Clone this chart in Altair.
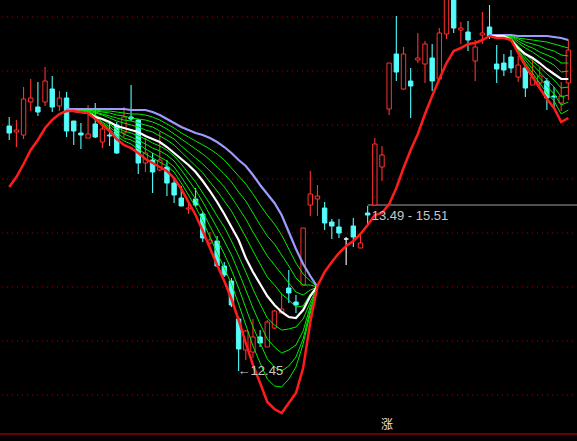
import altair as alt
import pandas as pd

# ---- daily candles (price) ----
opens = [14.90, 14.84, 14.81, 15.14, 15.09, 15.14, 15.27, 15.10, 15.18, 14.95,
         14.83, 14.78, 14.92, 14.74, 14.81, 14.91, 14.83, 14.99, 14.96, 14.53,
         14.56, 14.46, 14.49, 14.33, 14.18, 14.07, 14.17, 14.02, 13.73, 13.75,
         13.50, 13.35, 12.97, 12.66, 12.64, 12.79, 12.69, 12.88, 13.03, 13.28,
         13.14, 13.31, 14.11, 14.17, 14.08, 13.94, 13.89, 13.77, 13.90, 13.68,
         14.03, 14.11, 14.49, 15.07, 15.62, 15.27, 15.35, 15.56, 15.52, 15.58,
         15.37, 15.82, 16.30, 15.86, 15.84, 15.55, 15.81, 15.89, 15.52, 15.53,
         15.59, 15.39, 15.48, 15.31, 15.33, 15.35, 15.20, 15.13, 15.33]
highs = [14.99, 14.96, 15.29, 15.37, 15.34, 15.49, 15.40, 15.25, 15.24, 14.95,
         14.93, 15.11, 15.13, 14.92, 14.94, 14.94, 15.09, 15.31, 14.97, 14.78,
         14.63, 14.84, 14.56, 14.39, 14.30, 14.15, 14.28, 14.04, 13.84, 13.80,
         13.54, 13.38, 12.99, 12.86, 12.97, 12.86, 12.96, 13.06, 13.22, 13.46,
         13.21, 13.88, 14.45, 14.31, 14.14, 13.97, 13.97, 13.79, 13.98, 13.83,
         14.10, 14.78, 14.70, 15.53, 16.00, 15.69, 15.48, 15.83, 15.75, 15.72,
         15.88, 16.30, 16.36, 15.94, 15.95, 15.76, 16.04, 16.11, 15.71, 15.62,
         15.66, 15.60, 15.51, 15.56, 15.49, 15.38, 15.29, 15.34, 15.76]
lows = [14.76, 14.69, 14.77, 15.05, 15.00, 15.10, 15.04, 15.05, 14.79, 14.71,
        14.67, 14.78, 14.78, 14.68, 14.70, 14.62, 14.79, 14.95, 14.42, 14.44,
        14.23, 14.45, 14.20, 14.13, 14.10, 14.02, 14.09, 13.74, 13.71, 13.49,
        13.39, 13.09, 12.45, 12.56, 12.58, 12.69, 12.69, 12.87, 13.03, 13.13,
        13.03, 13.31, 14.00, 14.00, 13.86, 13.77, 13.78, 13.51, 13.69, 13.68,
        13.90, 14.11, 14.35, 15.01, 15.35, 15.26, 14.98, 15.53, 15.33, 15.25,
        15.37, 15.77, 15.83, 15.72, 15.65, 15.35, 15.72, 15.77, 15.33, 15.40,
        15.43, 15.34, 15.19, 15.31, 15.29, 15.06, 15.09, 15.05, 15.16]
closes = [14.83, 14.86, 15.17, 15.18, 15.04, 15.35, 15.09, 15.18, 14.85, 14.85,
          14.81, 14.82, 14.79, 14.87, 14.80, 14.63, 14.99, 14.97, 14.53, 14.63,
          14.44, 14.56, 14.33, 14.21, 14.10, 14.08, 14.11, 13.78, 13.76, 13.50,
          13.41, 13.11, 12.67, 12.85, 12.79, 12.73, 12.94, 13.05, 13.07, 13.23,
          13.11, 13.88, 14.22, 14.20, 13.93, 13.90, 13.83, 13.77, 13.79, 13.73,
          14.01, 14.72, 14.61, 15.53, 15.44, 15.62, 15.30, 15.58, 15.72, 15.35,
          15.83, 16.24, 15.88, 15.88, 15.76, 15.69, 15.83, 15.80, 15.47, 15.46,
          15.48, 15.51, 15.28, 15.39, 15.40, 15.18, 15.19, 15.20, 15.66]

# ---- overlay lines ----
red_line = [14.29, 14.39, 14.52, 14.66, 14.76, 14.88, 14.96, 15.02, 15.05, 15.05,
            15.04, 15.03, 14.97, 14.91, 14.85, 14.77, 14.71, 14.68, 14.63, 14.57,
            14.53, 14.49, 14.45, 14.38, 14.27, 14.14, 14.01, 13.85, 13.68, 13.51,
            13.35, 13.17, 12.96, 12.73, 12.51, 12.33, 12.14, 12.07, 12.03, 12.13,
            12.23, 12.48, 12.94, 13.30, 13.44, 13.54, 13.63, 13.70, 13.75, 13.82,
            13.91, 14.01, 14.03, 14.12, 14.28, 14.48, 14.66, 14.82, 15.02, 15.20,
            15.37, 15.53, 15.65, 15.68, 15.72, 15.73, 15.76, 15.80, 15.78, 15.78,
            15.76, 15.63, 15.50, 15.39, 15.28, 15.17, 15.08, 14.94, 14.98]

# first fan covers candles 8..43, second fan candles 67..78
fan1_start, fan2_start = 8, 67
upper1 = [15.07, 15.07, 15.07, 15.07, 15.07, 15.07, 15.07, 15.07, 15.07, 15.06,
          15.06, 15.06, 15.04, 15.01, 14.97, 14.93, 14.89, 14.86, 14.83, 14.81,
          14.78, 14.74, 14.69, 14.63, 14.56, 14.50, 14.41, 14.31, 14.22, 14.13,
          14.01, 13.84, 13.67, 13.52, 13.40, 13.29]
middle1 = [15.05, 15.05, 15.04, 15.03, 14.99, 14.97, 14.94, 14.90, 14.88, 14.86,
           14.84, 14.80, 14.77, 14.74, 14.69, 14.63, 14.57, 14.51, 14.44, 14.35,
           14.25, 14.14, 14.02, 13.89, 13.76, 13.58, 13.44, 13.32, 13.20, 13.11,
           13.04, 12.99, 12.98, 13.06, 13.20, 13.30]
greens1 = [
    [15.07, 15.07, 15.07, 15.07, 15.06, 15.05, 15.05, 15.04, 15.03, 15.02,
     15.02, 15.01, 14.99, 14.96, 14.92, 14.88, 14.83, 14.79, 14.75, 14.71,
     14.67, 14.62, 14.56, 14.48, 14.40, 14.32, 14.22, 14.11, 14.01, 13.92,
     13.81, 13.67, 13.53, 13.42, 13.35, 13.29],
    [15.07, 15.07, 15.06, 15.06, 15.05, 15.04, 15.03, 15.01, 15.00, 14.98,
     14.97, 14.96, 14.94, 14.91, 14.87, 14.82, 14.77, 14.72, 14.67, 14.62,
     14.56, 14.49, 14.42, 14.34, 14.24, 14.15, 14.03, 13.91, 13.80, 13.72,
     13.61, 13.50, 13.38, 13.31, 13.31, 13.29],
    [15.06, 15.06, 15.06, 15.06, 15.04, 15.02, 15.00, 14.98, 14.96, 14.95,
     14.93, 14.91, 14.89, 14.85, 14.81, 14.77, 14.70, 14.64, 14.58, 14.52,
     14.45, 14.37, 14.29, 14.19, 14.08, 13.97, 13.84, 13.72, 13.60, 13.51,
     13.42, 13.33, 13.24, 13.21, 13.26, 13.29],
    [15.06, 15.06, 15.06, 15.05, 15.03, 15.01, 14.98, 14.95, 14.93, 14.91,
     14.89, 14.86, 14.84, 14.80, 14.76, 14.71, 14.64, 14.57, 14.50, 14.43,
     14.34, 14.25, 14.15, 14.05, 13.92, 13.79, 13.65, 13.52, 13.39, 13.31,
     13.22, 13.16, 13.09, 13.10, 13.22, 13.29],
    [15.06, 15.06, 15.05, 15.05, 15.01, 14.97, 14.94, 14.89, 14.85, 14.83,
     14.80, 14.77, 14.73, 14.70, 14.66, 14.60, 14.52, 14.43, 14.34, 14.23,
     14.12, 14.00, 13.89, 13.75, 13.60, 13.44, 13.27, 13.12, 12.98, 12.91,
     12.86, 12.87, 12.89, 12.97, 13.14, 13.29],
    [15.06, 15.06, 15.05, 15.04, 15.00, 14.96, 14.92, 14.86, 14.82, 14.79,
     14.76, 14.72, 14.68, 14.65, 14.61, 14.55, 14.46, 14.36, 14.26, 14.14,
     14.01, 13.88, 13.75, 13.61, 13.44, 13.26, 13.08, 12.92, 12.77, 12.69,
     12.63, 12.66, 12.71, 12.85, 13.10, 13.29],
    [15.05, 15.05, 15.05, 15.04, 14.99, 14.94, 14.89, 14.83, 14.78, 14.76,
     14.72, 14.67, 14.63, 14.59, 14.55, 14.49, 14.39, 14.28, 14.17, 14.04,
     13.90, 13.76, 13.62, 13.46, 13.28, 13.08, 12.89, 12.73, 12.57, 12.49,
     12.45, 12.50, 12.59, 12.77, 13.06, 13.29],
    [15.05, 15.05, 15.04, 15.03, 14.98, 14.93, 14.87, 14.80, 14.75, 14.72,
     14.67, 14.62, 14.58, 14.54, 14.50, 14.44, 14.33, 14.21, 14.09, 13.95,
     13.79, 13.63, 13.48, 13.32, 13.12, 12.91, 12.70, 12.53, 12.37, 12.30,
     12.29, 12.37, 12.49, 12.72, 13.03, 13.29],
]
upper2 = [15.81, 15.81, 15.81, 15.81, 15.80, 15.80, 15.80, 15.80, 15.80, 15.79,
          15.78, 15.76]
middle2 = [15.80, 15.80, 15.80, 15.76, 15.68, 15.62, 15.58, 15.53, 15.47, 15.42,
           15.37, 15.37]
greens2 = [
    [15.81, 15.81, 15.81, 15.81, 15.78, 15.77, 15.76, 15.75, 15.74, 15.72, 15.70, 15.68],
    [15.81, 15.80, 15.80, 15.80, 15.77, 15.74, 15.72, 15.70, 15.67, 15.65, 15.61, 15.60],
    [15.81, 15.80, 15.80, 15.80, 15.75, 15.71, 15.68, 15.64, 15.61, 15.58, 15.53, 15.53],
    [15.81, 15.80, 15.80, 15.79, 15.73, 15.68, 15.64, 15.59, 15.55, 15.51, 15.44, 15.45],
    [15.80, 15.79, 15.79, 15.78, 15.70, 15.62, 15.55, 15.49, 15.42, 15.36, 15.28, 15.29],
    [15.80, 15.79, 15.79, 15.78, 15.68, 15.59, 15.51, 15.44, 15.36, 15.29, 15.19, 15.21],
    [15.80, 15.79, 15.79, 15.77, 15.66, 15.56, 15.47, 15.38, 15.30, 15.22, 15.11, 15.14],
    [15.80, 15.78, 15.78, 15.77, 15.65, 15.53, 15.43, 15.33, 15.23, 15.15, 15.02, 15.06],
]

grid_levels = [15.99, 15.45, 14.91, 14.37, 13.83, 13.29, 12.75, 12.21]
base_level = 11.82
range_level = 14.11
range_text = "13.49 - 15.51"
low_text = "\u219012.45"
badge_text = "\u6da8"

RED = "#ff3030"
CYAN = "#54fcfc"
WHITE = "#ffffff"
LAV = "#9c9cff"
GREEN = "#00ee00"
LABEL_FONT = "Liberation Sans"

xs = alt.Scale(domain=[-0.589, 78.506], nice=False, zero=False)
ys = alt.Scale(domain=[11.75, 16.16], nice=False, zero=False)


def X(f="i"):
    return alt.X(f"{f}:Q", scale=xs, axis=None)


def Y(f):
    return alt.Y(f"{f}:Q", scale=ys, axis=None)


def kind(o, c):
    return "up" if c > o else ("down" if c < o else "flat")


candles = pd.DataFrame({"i": list(range(len(opens))), "open": opens, "high": highs,
                        "low": lows, "close": closes})
candles["kind"] = [kind(o, c) for o, c in zip(opens, closes)]

kind_color = alt.Color("kind:N", scale=alt.Scale(domain=["up", "down", "flat"],
                                                 range=[RED, CYAN, WHITE]), legend=None)

wicks = alt.Chart(candles).mark_rule(strokeWidth=1.1, clip=True).encode(
    x=X(), y=Y("high"), y2="low", color=kind_color)


def bodies(k, fill, stroke):
    return alt.Chart(candles).transform_filter(f"datum.kind == '{k}'").mark_bar(
        size=4.4, fill=fill, stroke=stroke, strokeWidth=1, clip=True).encode(
        x=X(), y=Y("open"), y2="close")


# ---- line table ----
rows = []
for i, v in enumerate(red_line):
    rows.append({"series": "red", "seg": "r", "i": i, "v": v})
for start, tag, up, mid, greens in [(fan1_start, "a", upper1, middle1, greens1),
                                    (fan2_start, "b", upper2, middle2, greens2)]:
    for k in range(len(up)):
        rows.append({"series": "upper", "seg": tag, "i": start + k, "v": up[k]})
        rows.append({"series": "middle", "seg": tag, "i": start + k, "v": mid[k]})
    for g, vals in enumerate(greens):
        for k, v in enumerate(vals):
            rows.append({"series": "green", "seg": f"{tag}{g}", "i": start + k, "v": v})
lines = pd.DataFrame(rows)


def line_layer(series, color, width):
    return alt.Chart(lines).transform_filter(f"datum.series == '{series}'").mark_line(
        color=color, strokeWidth=width, clip=True).encode(
        x=X(), y=Y("v"), detail="seg:N", order="i:Q")


grid = alt.Chart(pd.DataFrame({"v": grid_levels})).mark_rule(
    color="#a00000", strokeWidth=1, strokeDash=[1, 4]).encode(
    y=Y("v"), x=alt.value(2), x2=alt.value(577))
base = alt.Chart(pd.DataFrame({"v": [base_level]})).mark_rule(
    color="#d00000", strokeWidth=1.2).encode(y=Y("v"), x=alt.value(0), x2=alt.value(577))

range_df = pd.DataFrame({"i": [50], "v": [range_level], "t": [range_text]})
range_rule = alt.Chart(range_df).mark_rule(color="#a0a0a0", strokeWidth=1).encode(
    x=X(), x2=alt.value(577), y=Y("v"))
range_label = alt.Chart(range_df).mark_text(
    align="left", baseline="alphabetic", dx=4, dy=15, font=LABEL_FONT,
    fontSize=13, color="#c8c8c8").encode(x=X(), y=Y("v"), text="t:N")

low_df = pd.DataFrame({"i": [lows.index(min(lows))], "v": [min(lows)], "t": [low_text]})
low_label = alt.Chart(low_df).mark_text(
    align="left", baseline="middle", dx=-1, font=LABEL_FONT, fontSize=13,
    color="#c8c8c8").encode(x=X(), y=Y("v"), text="t:N")

badge = alt.Chart(pd.DataFrame({"t": [badge_text]})).mark_text(
    align="center", baseline="middle", font="Noto Sans CJK SC", fontSize=12,
    color="#f4dede").encode(x=alt.value(387), y=alt.value(425), text="t:N")

chart = alt.layer(
    grid, base, range_rule, wicks,
    bodies("up", "#000000", RED), bodies("down", CYAN, CYAN), bodies("flat", WHITE, WHITE),
    line_layer("green", GREEN, 1), line_layer("upper", LAV, 2.2),
    line_layer("middle", WHITE, 2.2), line_layer("red", "#ff1c1c", 2.5),
    range_label, low_label, badge,
).properties(
    width=577, height=441, background="#000000", padding=0,
    autosize=alt.AutoSizeParams(type="none"),
).configure_view(strokeWidth=0)

chart.save("out.html", embed_options={"renderer": "svg", "actions": False})
